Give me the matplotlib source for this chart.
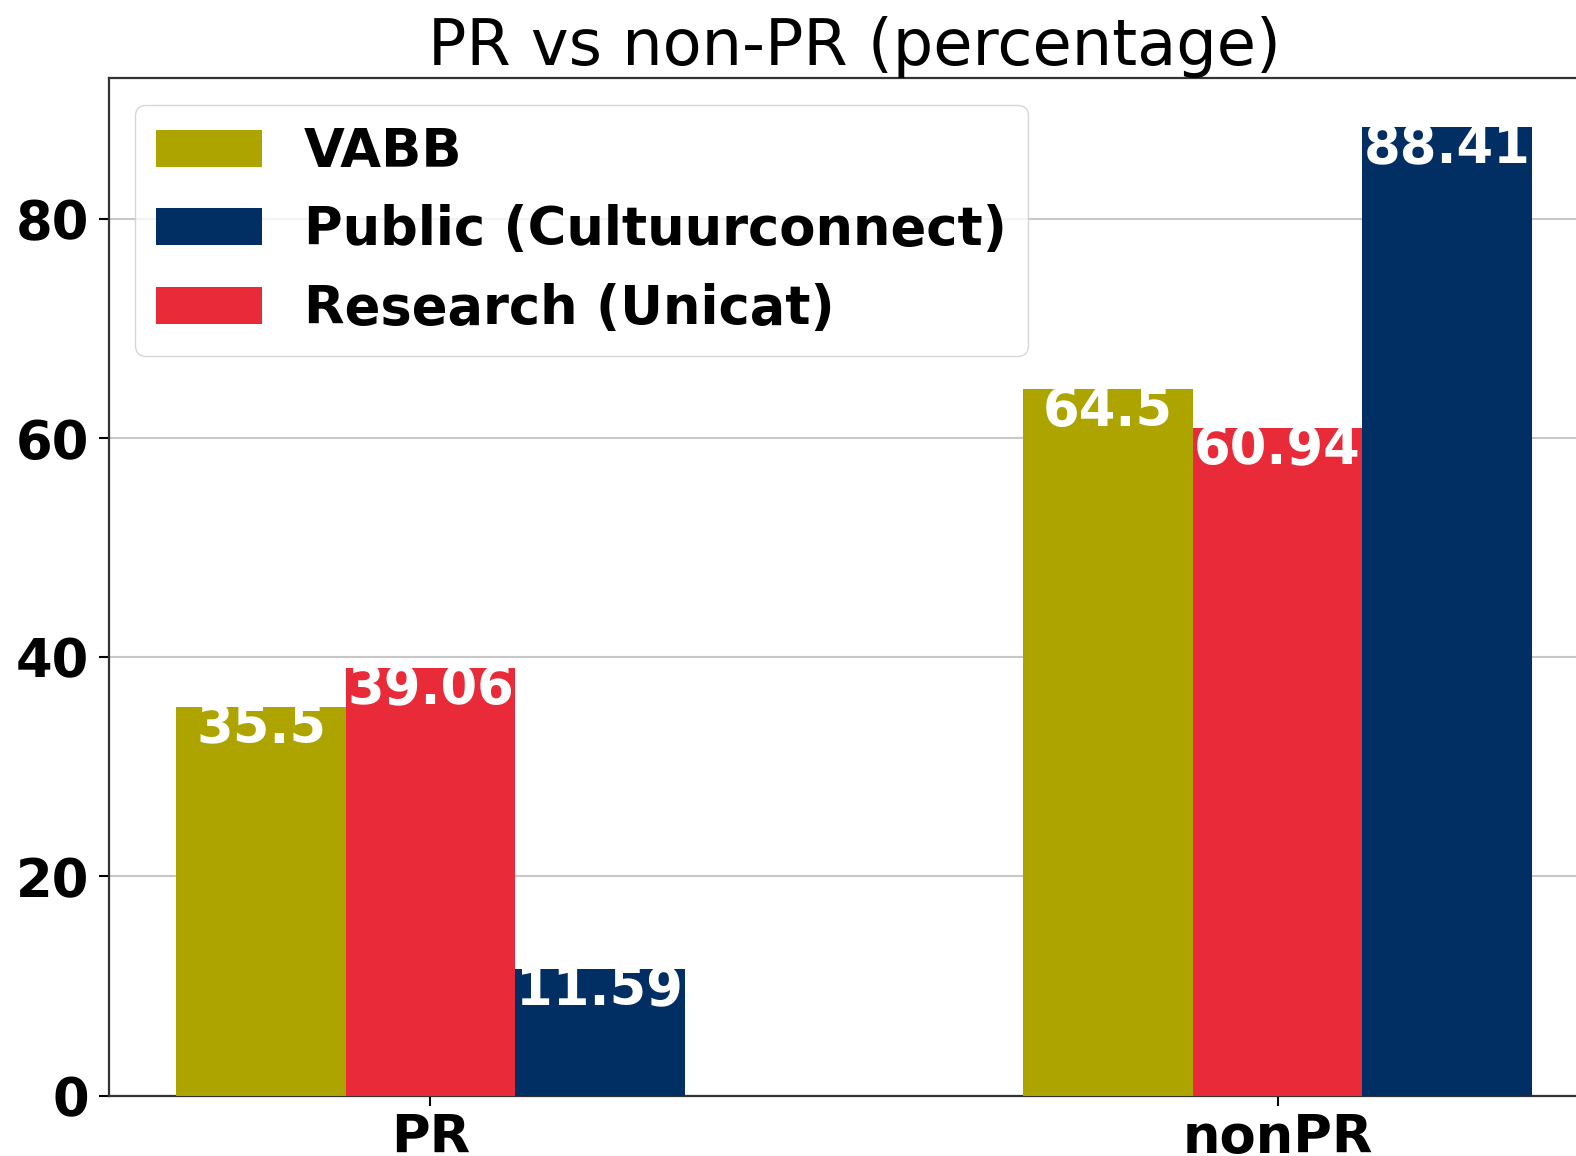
import numpy as np
import matplotlib.pyplot as plt

# 数据
categories = ['PR', 'nonPR']
vabb = [35.5, 64.5]
public = [11.59, 88.41]
research = [39.06, 60.94]

colors = {'VABB': '#ADA400', 'Public': '#012E63', 'Research': '#E92A38'}

fig = plt.figure(figsize=(15.76, 11.56), dpi=100)
ax = fig.add_axes([0.0689, 0.0523, 0.946, 0.8799])

x = np.arange(len(categories))
w = 0.2

b1 = ax.bar(x - w, vabb, w, color=colors['VABB'], label='VABB', zorder=3)
b2 = ax.bar(x + w, public, w, color=colors['Public'], label='Public (Cultuurconnect)', zorder=3)
b3 = ax.bar(x, research, w, color=colors['Research'], label='Research (Unicat)', zorder=3)

# 柱内数值标签
for bars in (b1, b2, b3):
    for bar in bars:
        h = bar.get_height()
        ax.annotate(f'{h:g}', (bar.get_x() + bar.get_width() / 2, h),
                    xytext=(0, 3), textcoords='offset points',
                    ha='center', va='top', color='white',
                    fontsize=38, fontweight='bold', zorder=4)

ax.set_xticks(x)
ax.set_xticklabels(categories)
ax.set_yticks([0, 20, 40, 60, 80])
for lab in ax.get_xticklabels() + ax.get_yticklabels():
    lab.set_fontweight('bold')
ax.tick_params(axis='both', labelsize=38, length=7, width=1.5)
ax.tick_params(axis='y', pad=7)
ax.tick_params(axis='x', pad=5)
ax.yaxis.grid(True, color='#c8c8c8', linewidth=1.5, zorder=0)
ax.set_axisbelow(True)
for s in ax.spines.values():
    s.set_linewidth(1.6)
    s.set_color('#333333')

ax.set_title('PR vs non-PR (percentage)', fontsize=46, pad=8)
ax.legend(loc='upper left', prop={'size': 38, 'weight': 'bold'})

fig.savefig('out.png', dpi=100)
